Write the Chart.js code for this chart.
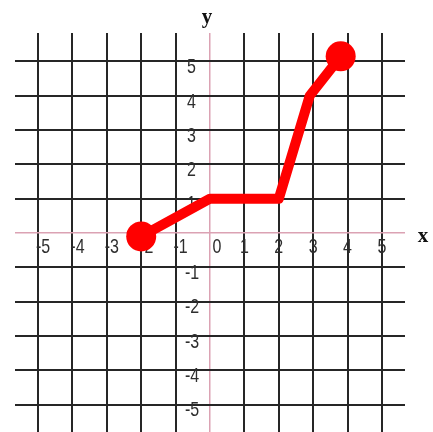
<!DOCTYPE html>
<html>
<head>
<meta charset="utf-8">
<script src="https://cdn.jsdelivr.net/npm/chart.js@4.4.1/dist/chart.umd.min.js"></script>
<style>
  html, body { margin: 0; padding: 0; background: #fff; }
  #wrap { width: 433px; height: 432px; }
</style>
</head>
<body>
<div id="wrap"><canvas id="graph" width="433" height="432"></canvas></div>
<script>
// path through the plane
const pathX = [-2, 0, 2, 2.9, 3.8];
const pathY = [-0.1, 1, 1, 4, 5.15];

// grid / tick values
const xTicks = [-5, -4, -3, -2, -1, 0, 1, 2, 3, 4, 5];
const yTicks = [-5, -4, -3, -2, -1, 0, 1, 2, 3, 4, 5];
const xTickLabels = ["-5", "-4", "-3", "-2", "-1", "0", "1", "2", "3", "4", "5"];
const yTickLabels = ["-5", "-4", "-3", "-2", "-1", "", "1", "2", "3", "4", "5"];

const GRID = "#262626";
const AXIS = "#dba2b3";

function gridColor(ctx) {
  return ctx.tick && ctx.tick.value === 0 ? AXIS : GRID;
}
function gridWidth(ctx) {
  return ctx.tick && ctx.tick.value === 0 ? 1.5 : 2;
}

// tall narrow digits: draw with a vertical stretch
function stretchedText(ctx, text, x, y) {
  ctx.save();
  ctx.translate(x, y);
  ctx.scale(1, 1.3);
  ctx.fillText(text, 0, 0);
  ctx.restore();
}

// numbers along both axes plus the x / y names
const axisLabels = {
  id: "axisLabels",
  beforeDatasetsDraw(chart) {
    const { ctx, scales } = chart;
    const xs = scales.x, ys = scales.y;
    const x0 = xs.getPixelForValue(0);
    const y0 = ys.getPixelForValue(0);
    ctx.save();
    ctx.fillStyle = "#2e2e2e";
    ctx.font = "16px 'Liberation Sans', Arial, sans-serif";
    ctx.textBaseline = "middle";

    ctx.textAlign = "center";
    xTicks.forEach((v, i) => {
      // negatives sit a little right so the minus straddles the line; 0 clears the y axis
      const shift = v < 0 ? 5 : v === 0 ? 7 : 0;
      stretchedText(ctx, xTickLabels[i], xs.getPixelForValue(v) + shift, y0 + 14);
    });

    ctx.textAlign = "left";
    yTicks.forEach((v, i) => {
      if (!yTickLabels[i]) return;
      const left = v < 0 ? x0 - 25 : x0 - 23;
      stretchedText(ctx, yTickLabels[i], left, ys.getPixelForValue(v) + 6);
    });

    ctx.fillStyle = "#111";
    ctx.font = "bold 21px 'Liberation Serif', 'DejaVu Serif', serif";
    ctx.textAlign = "center";
    ctx.fillText("y", x0 - 3, 18);
    ctx.fillText("x", 423, y0 + 4);
    ctx.restore();
  }
};

new Chart(document.getElementById("graph"), {
  type: "line",
  data: {
    datasets: [{
      data: pathX.map((x, i) => ({ x: x, y: pathY[i] })),
      borderColor: "#ff0000",
      backgroundColor: "#ff0000",
      borderWidth: 10,
      borderJoinStyle: "round",
      borderCapStyle: "round",
      pointRadius: (ctx) => (ctx.dataIndex === 0 || ctx.dataIndex === pathX.length - 1 ? 15 : 0),
      pointHoverRadius: 0,
      pointBorderWidth: 0,
      tension: 0,
      clip: false
    }]
  },
  options: {
    responsive: false,
    animation: false,
    events: [],
    layout: { autoPadding: false, padding: { left: 15, right: 28, top: 33, bottom: 0 } },
    plugins: { legend: { display: false }, tooltip: { enabled: false } },
    scales: {
      x: {
        type: "linear",
        min: -5.67,
        max: 5.67,
        afterBuildTicks: (scale) => { scale.ticks = xTicks.map((v) => ({ value: v })); },
        afterFit: (scale) => { scale.height = 0; },
        ticks: { display: false },
        grid: { color: gridColor, lineWidth: gridWidth, drawTicks: false },
        border: { display: false }
      },
      y: {
        type: "linear",
        min: -5.8,
        max: 5.83,
        afterBuildTicks: (scale) => { scale.ticks = yTicks.map((v) => ({ value: v })); },
        afterFit: (scale) => { scale.width = 0; },
        ticks: { display: false },
        grid: { color: gridColor, lineWidth: gridWidth, drawTicks: false },
        border: { display: false }
      }
    }
  },
  plugins: [axisLabels]
});
</script>
</body>
</html>
